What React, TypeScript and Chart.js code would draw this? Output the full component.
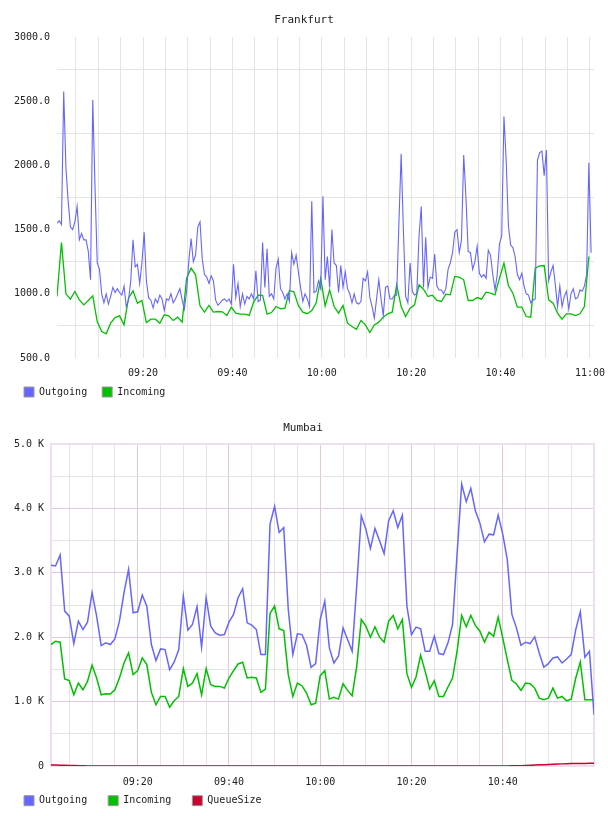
import React, { useEffect, useRef } from 'react';
import { Chart, registerables } from 'chart.js';

Chart.register(...registerables);

const FONT = '"DejaVu Sans Mono", monospace';
const BLUE = '#6666ff';
const GREEN = '#00c000';
const RED = '#cc0033';
const TEXT = '#222222';
const GRID_GRAY = '#e4e4e4';
const GRID_PINK = '#e0c8e0';
const FRAME_PINK = '#eddfed';

// ---------- shared time axis (minutes after 09:00) ----------
const timeGridMinutes = [5, 10, 15, 20, 25, 30, 35, 40, 45, 50, 55, 60, 65, 70, 75, 80, 85, 90, 95, 100, 105, 110, 115, 120];
const timeLabelMinutes = [20, 40, 60, 80, 100, 120];
const timeLabels = ['09:20', '09:40', '10:00', '10:20', '10:40', '11:00'];

// ---------- Frankfurt ----------
const frankfurtTitle = 'Frankfurt';
const frankfurtSeriesNames = ['Outgoing', 'Incoming'];
const frankfurtXMin = 0.75;
const frankfurtXMax = 120.9;
const frankfurtOutgoingStart = 0.75; // first sample, minutes after 09:00
const frankfurtOutgoingStep = 0.5; // 30 s samples
const frankfurtIncomingStart = 0.75;
const frankfurtIncomingStep = 1; // 1 min samples
const frankfurtOutgoing = [
  1550, 1570, 1540, 2575, 1980, 1720, 1520, 1500, 1560, 1680,
  1420, 1470, 1420, 1420, 1330, 1110, 2510, 1835, 1240, 1190,
  1000, 930, 1000, 920, 980, 1050, 1010, 1040, 1010, 990,
  1060, 900, 950, 1100, 1420, 1210, 1230, 1080, 1240, 1480,
  1100, 970, 950, 890, 960, 930, 990, 960, 870, 960,
  950, 1000, 930, 960, 1000, 1040, 950, 880, 1020, 1260,
  1430, 1250, 1300, 1520, 1560, 1270, 1150, 1130, 1080, 1140,
  1100, 950, 910, 930, 950, 960, 940, 960, 920, 1230,
  970, 1080, 900, 1000, 920, 980, 960, 1000, 960, 1180,
  940, 950, 1400, 1050, 1350, 980, 1000, 960, 1200, 1270,
  1040, 1010, 960, 1000, 940, 1320, 1230, 1300, 1170, 1050,
  940, 1000, 960, 900, 1720, 1010, 1020, 1100, 1040, 1760,
  1110, 1290, 1050, 1500, 1240, 1220, 1010, 1220, 1050, 1170,
  1040, 1000, 930, 1000, 930, 920, 940, 1120, 1100, 1170,
  970, 900, 810, 960, 1110, 960, 830, 1050, 1060, 960,
  960, 990, 990, 1550, 2090, 1500, 980, 930, 1240, 1020,
  990, 1000, 1450, 1680, 1050, 1440, 1050, 1130, 1120, 1310,
  1060, 1030, 1030, 1000, 1040, 1190, 1240, 1320, 1480, 1500,
  1320, 1420, 2080, 1750, 1330, 1320, 1190, 1250, 1370, 1160,
  1130, 1150, 1120, 1340, 1300, 1150, 1030, 1150, 1390, 1450,
  2380, 2040, 1530, 1380, 1360, 1290, 1150, 1110, 1160, 1060,
  1000, 990, 930, 950, 960, 2040, 2100, 2110, 1920, 2120,
  1100, 1170, 1220, 1070, 900, 1060, 900, 980, 1020, 880,
  1000, 1040, 960, 970, 1030, 1020, 1060, 1150, 2020, 1320,
];
const frankfurtIncoming = [
  979, 1400, 1000, 958, 1018, 953, 914, 948, 984, 784,
  706, 688, 771, 815, 828, 758, 966, 1023, 927, 948,
  776, 802, 802, 771, 836, 828, 792, 818, 779, 1122,
  1200, 1148, 906, 857, 909, 857, 862, 860, 831, 896,
  849, 841, 841, 831, 935, 989, 987, 841, 854, 901,
  883, 888, 1026, 1015, 910, 857, 845, 870, 930, 1120,
  906, 1030, 901, 849, 909, 771, 745, 724, 792, 758,
  698, 758, 779, 818, 844, 857, 1070, 901, 823, 888,
  914, 1070, 1036, 979, 989, 948, 940, 997, 992, 1135,
  1130, 1109, 948, 948, 971, 958, 1013, 1005, 992, 1122,
  1239, 1065, 1005, 896, 896, 823, 818, 1200, 1218, 1220,
  953, 927, 849, 802, 844, 844, 831, 844, 901, 1290,
];
const frankfurtYMin = 500;
const frankfurtYMax = 3000;
const frankfurtYGrid = [500, 750, 1000, 1250, 1500, 1750, 2000, 2250, 2500, 2750, 3000];
const frankfurtYLabelValues = [500, 1000, 1500, 2000, 2500, 3000];
const frankfurtYLabels = ['500.0', '1000.0', '1500.0', '2000.0', '2500.0', '3000.0'];

// ---------- Mumbai ----------
const mumbaiTitle = 'Mumbai';
const mumbaiSeriesNames = ['Outgoing', 'Incoming', 'QueueSize'];
const mumbaiXMin = 1;
const mumbaiXMax = 120;
const mumbaiStart = 1; // first sample, minutes after 09:00
const mumbaiStep = 1; // 1 min samples
const mumbaiOutgoing = [
  3117, 3106, 3278, 2405, 2327, 1901, 2249, 2119, 2233, 2691,
  2327, 1870, 1912, 1886, 1974, 2249, 2691, 3054, 2379, 2395,
  2654, 2483, 1886, 1636, 1818, 1808, 1496, 1616, 1808, 2639,
  2109, 2197, 2473, 1844, 2613, 2171, 2067, 2031, 2041, 2233,
  2353, 2613, 2753, 2223, 2187, 2119, 1730, 1730, 3756, 4031,
  3626, 3704, 2431, 1730, 2052, 2041, 1875, 1532, 1590, 2275,
  2561, 1834, 1600, 1704, 2145, 1964, 1782, 2800, 3886, 3678,
  3377, 3689, 3496, 3299, 3808, 3964, 3704, 3896, 2483, 2041,
  2156, 2130, 1782, 1782, 2015, 1746, 1730, 1912, 2197, 3300,
  4379, 4104, 4312, 3964, 3771, 3481, 3600, 3590, 3896, 3600,
  3200, 2353, 2145, 1875, 1922, 1901, 2005, 1756, 1532, 1590,
  1678, 1694, 1600, 1662, 1730, 2119, 2395, 1689, 1782, 795,
];
const mumbaiIncoming = [
  1886, 1938, 1922, 1351, 1325, 1106, 1288, 1184, 1314, 1564,
  1366, 1106, 1122, 1117, 1184, 1366, 1600, 1756, 1418, 1480,
  1678, 1574, 1143, 951, 1080, 1080, 914, 1013, 1080, 1512,
  1236, 1288, 1434, 1106, 1512, 1262, 1236, 1236, 1210, 1366,
  1480, 1584, 1610, 1366, 1377, 1366, 1143, 1195, 2369, 2483,
  2130, 2104, 1418, 1080, 1288, 1247, 1132, 951, 976, 1403,
  1480, 1039, 1065, 1039, 1278, 1174, 1091, 1548, 2275, 2171,
  2000, 2161, 2000, 1922, 2249, 2338, 2130, 2275, 1434, 1221,
  1382, 1720, 1470, 1195, 1325, 1080, 1080, 1226, 1366, 1782,
  2338, 2161, 2338, 2182, 2093, 1922, 2078, 2015, 2312, 1990,
  1652, 1330, 1273, 1174, 1288, 1278, 1210, 1054, 1028, 1054,
  1210, 1054, 1080, 1013, 1039, 1366, 1616, 1028, 1028, 1028,
];
const mumbaiQueueSize = [
  16, 14, 12, 10, 8, 6, 4, 3, 1, 0,
  0, 0, 0, 0, 0, 0, 0, 0, 0, 0,
  0, 0, 0, 0, 0, 0, 0, 0, 0, 0,
  0, 0, 0, 0, 0, 0, 0, 0, 0, 0,
  0, 0, 0, 0, 0, 0, 0, 0, 0, 0,
  0, 0, 0, 0, 0, 0, 0, 0, 0, 0,
  0, 0, 0, 0, 0, 0, 0, 0, 0, 0,
  0, 0, 0, 0, 0, 0, 0, 0, 0, 0,
  0, 0, 0, 0, 0, 0, 0, 0, 0, 0,
  0, 0, 0, 0, 0, 0, 0, 0, 0, 0,
  0, 2, 3, 5, 8, 11, 14, 18, 21, 24,
  27, 30, 33, 35, 37, 38, 39, 40, 41, 41,
];
const mumbaiYMin = 0;
const mumbaiYMax = 5000;
const mumbaiYGrid = [0, 500, 1000, 1500, 2000, 2500, 3000, 3500, 4000, 4500, 5000];
const mumbaiYLabelValues = [0, 1000, 2000, 3000, 4000, 5000];
const mumbaiYLabels = ['0', '1.0 K', '2.0 K', '3.0 K', '4.0 K', '5.0 K'];
const mumbaiXGrid = [5, 10, 15, 20, 25, 30, 35, 40, 45, 50, 55, 60, 65, 70, 75, 80, 85, 90, 95, 100, 105, 110, 115];

// ---------- helpers ----------
function toPoints(values: number[], start: number, step: number) {
  return values.map((y, i) => ({ x: start + i * step, y }));
}
function labelFor(values: number[], labels: string[], v: number) {
  const k = values.indexOf(v);
  return k >= 0 ? labels[k] : '';
}

const shiftPlugin = {
  id: 'shiftBlocks',
  afterLayout(chart: any, _args: any, opts: any) {
    const t = chart.titleBlock;
    if (t && opts.titleDx) { t.left += opts.titleDx; t.right += opts.titleDx; }
    const l = chart.legend;
    if (l && opts.legendDx) { l.left += opts.legendDx; l.right += opts.legendDx; }
    if (l && opts.legendDy) { l.top += opts.legendDy; l.bottom += opts.legendDy; }
  },
};

const framePlugin = {
  id: 'frame',
  beforeDatasetsDraw(chart: any, _args: any, opts: any) {
    if (!opts || !opts.color) return;
    const { ctx, chartArea: a } = chart;
    ctx.save();
    ctx.strokeStyle = opts.color;
    ctx.lineWidth = opts.width || 1;
    ctx.strokeRect(a.left, a.top, a.right - a.left, a.bottom - a.top);
    ctx.restore();
  },
};

function legendLabels(chart: any) {
  const base = (Chart as any).defaults.plugins.legend.labels.generateLabels(chart);
  return base.map((l: any) => ({
    ...l,
    fillStyle: chart.data.datasets[l.datasetIndex].borderColor,
    strokeStyle: '#999999',
    lineWidth: 1,
  }));
}

function lineDs(label: string, data: any[], color: string, width: number) {
  return {
    label,
    data,
    borderColor: color,
    backgroundColor: color,
    borderWidth: width,
    pointRadius: 0,
    pointHoverRadius: 0,
    tension: 0,
    fill: false,
  };
}

function fixXAxis(height: number) {
  return (s: any) => {
    s.height = height;
    s.paddingLeft = 0;
    s.paddingRight = 0;
  };
}

function frankfurtConfig(): any {
  return {
    type: 'line',
    data: {
      datasets: [
        lineDs(frankfurtSeriesNames[0], toPoints(frankfurtOutgoing, frankfurtOutgoingStart, frankfurtOutgoingStep), BLUE, 1.1),
        lineDs(frankfurtSeriesNames[1], toPoints(frankfurtIncoming, frankfurtIncomingStart, frankfurtIncomingStep), GREEN, 1.3),
      ],
    },
    plugins: [shiftPlugin],
    options: {
      responsive: false,
      animation: false,
      events: [],
      layout: { padding: { left: 0, right: 14, top: 0, bottom: 0 } },
      scales: {
        x: {
          type: 'linear',
          min: frankfurtXMin,
          max: frankfurtXMax,
          afterBuildTicks: (axis: any) => { axis.ticks = timeGridMinutes.map((v) => ({ value: v })); },
          afterFit: fixXAxis(24),
          border: { display: false },
          grid: { color: GRID_GRAY, lineWidth: 1, drawTicks: false },
          ticks: {
            autoSkip: false, maxRotation: 0, minRotation: 0, padding: 9,
            font: { family: FONT, size: 10 }, color: TEXT,
            callback: (v: any) => labelFor(timeLabelMinutes, timeLabels, v),
          },
        },
        y: {
          type: 'linear',
          min: frankfurtYMin,
          max: frankfurtYMax,
          afterBuildTicks: (axis: any) => { axis.ticks = frankfurtYGrid.map((v) => ({ value: v })); },
          afterFit: (s: any) => { s.width = 57; },
          border: { display: false },
          grid: {
            lineWidth: 1, drawTicks: false,
            color: (c: any) => (c.tick && frankfurtYLabelValues.includes(c.tick.value) ? 'rgba(0,0,0,0)' : GRID_GRAY),
          },
          ticks: {
            autoSkip: false, padding: 7,
            font: { family: FONT, size: 10 }, color: TEXT,
            callback: (v: any) => labelFor(frankfurtYLabelValues, frankfurtYLabels, v),
          },
        },
      },
      plugins: {
        tooltip: { enabled: false },
        title: {
          display: true, text: frankfurtTitle, color: TEXT,
          font: { family: FONT, size: 11, weight: 'normal' },
          padding: { top: 13.4, bottom: 10.4 },
        },
        legend: {
          display: true, position: 'bottom', align: 'start',
          labels: {
            boxWidth: 10, boxHeight: 10, padding: 15, color: TEXT,
            font: { family: FONT, size: 10 },
            generateLabels: legendLabels,
          },
        },
        shiftBlocks: { titleDx: 7, legendDx: 9, legendDy: -10 },
      },
    },
  };
}

function mumbaiConfig(): any {
  return {
    type: 'line',
    data: {
      datasets: [
        lineDs(mumbaiSeriesNames[0], toPoints(mumbaiOutgoing, mumbaiStart, mumbaiStep), BLUE, 1.5),
        lineDs(mumbaiSeriesNames[1], toPoints(mumbaiIncoming, mumbaiStart, mumbaiStep), GREEN, 1.5),
        lineDs(mumbaiSeriesNames[2], toPoints(mumbaiQueueSize, mumbaiStart, mumbaiStep), RED, 1.5),
      ],
    },
    plugins: [shiftPlugin, framePlugin],
    options: {
      responsive: false,
      animation: false,
      events: [],
      layout: { padding: { left: 0, right: 14, top: 0, bottom: 0 } },
      scales: {
        x: {
          type: 'linear',
          min: mumbaiXMin,
          max: mumbaiXMax,
          afterBuildTicks: (axis: any) => { axis.ticks = mumbaiXGrid.map((v) => ({ value: v })); },
          afterFit: fixXAxis(24),
          border: { display: false },
          grid: {
            lineWidth: 1, drawTicks: false,
            color: (c: any) => (c.tick && timeLabelMinutes.includes(c.tick.value) ? GRID_PINK : GRID_GRAY),
          },
          ticks: {
            autoSkip: false, maxRotation: 0, minRotation: 0, padding: 10,
            font: { family: FONT, size: 10 }, color: TEXT,
            callback: (v: any) => labelFor(timeLabelMinutes, timeLabels, v),
          },
        },
        y: {
          type: 'linear',
          min: mumbaiYMin,
          max: mumbaiYMax,
          afterBuildTicks: (axis: any) => { axis.ticks = mumbaiYGrid.map((v) => ({ value: v })); },
          afterFit: (s: any) => { s.width = 51; },
          border: { display: false },
          grid: {
            lineWidth: 1, drawTicks: false,
            color: (c: any) => {
              if (!c.tick) return GRID_GRAY;
              const v = c.tick.value;
              if (v === mumbaiYMin || v === mumbaiYMax) return 'rgba(0,0,0,0)';
              return mumbaiYLabelValues.includes(v) ? GRID_PINK : GRID_GRAY;
            },
          },
          ticks: {
            autoSkip: false, padding: 7,
            font: { family: FONT, size: 10 }, color: TEXT,
            callback: (v: any) => labelFor(mumbaiYLabelValues, mumbaiYLabels, v),
          },
        },
      },
      plugins: {
        tooltip: { enabled: false },
        title: {
          display: true, text: mumbaiTitle, color: TEXT,
          font: { family: FONT, size: 11, weight: 'normal' },
          padding: { top: 14.9, bottom: 8.9 },
        },
        legend: {
          display: true, position: 'bottom', align: 'start',
          labels: {
            boxWidth: 10, boxHeight: 10, padding: 21, color: TEXT,
            font: { family: FONT, size: 10 },
            generateLabels: legendLabels,
          },
        },
        shiftBlocks: { titleDx: 6, legendDx: 3, legendDy: -15.3 },
        frame: { color: FRAME_PINK, width: 2 },
      },
    },
  };
}

function ChartCanvas({ make, width, height }: { make: () => any; width: number; height: number }) {
  const ref = useRef<HTMLCanvasElement | null>(null);
  useEffect(() => {
    if (!ref.current) return;
    const chart = new Chart(ref.current, make());
    return () => chart.destroy();
  }, [make]);
  return <canvas ref={ref} width={width} height={height} style={{ display: 'block', width, height }} />;
}

export default function App() {
  return (
    <div style={{ position: 'absolute', left: 0, top: 0, width: 608, height: 816, overflow: 'hidden', background: '#ffffff' }}>
      <div style={{ position: 'absolute', left: 0, top: 0, width: 608, height: 417 }}>
        <ChartCanvas make={frankfurtConfig} width={608} height={417} />
      </div>
      <div style={{ position: 'absolute', left: 0, top: 407, width: 608, height: 424 }}>
        <ChartCanvas make={mumbaiConfig} width={608} height={424} />
      </div>
    </div>
  );
}
